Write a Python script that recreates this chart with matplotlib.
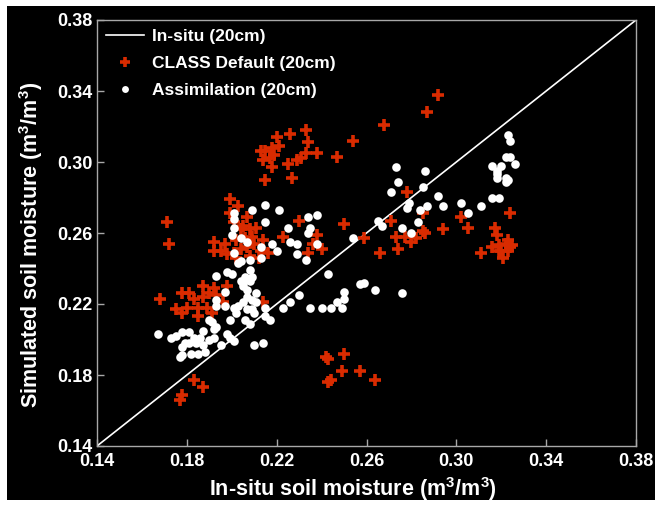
import matplotlib
matplotlib.use("Agg")
import matplotlib.pyplot as plt
from matplotlib.patches import Rectangle

plt.rcParams['font.family'] = ['Liberation Sans', 'DejaVu Sans']
plt.rcParams['font.weight'] = 'bold'
plt.rcParams['mathtext.fontset'] = 'custom'
plt.rcParams['mathtext.rm'] = 'Liberation Sans:bold'
plt.rcParams['mathtext.bf'] = 'Liberation Sans:bold'
plt.rcParams['mathtext.it'] = 'Liberation Sans:bold'

# CLASS Default (20cm): (in-situ, simulated)
class_x = [0.292, 0.287, 0.268, 0.254,
           0.220, 0.226, 0.233, 0.234, 0.221, 0.213, 0.215, 0.218, 0.219, 0.214,
           0.217, 0.218, 0.225, 0.229, 0.231, 0.233, 0.238, 0.247, 0.215, 0.227,
           0.171, 0.172, 0.168,
           0.199, 0.203, 0.207, 0.192, 0.192, 0.197, 0.201, 0.199, 0.204, 0.208,
           0.211, 0.207, 0.210, 0.213, 0.204, 0.201, 0.195, 0.214, 0.216, 0.208,
           0.198, 0.206, 0.209, 0.202, 0.212, 0.205, 0.202,
           0.223, 0.230, 0.236, 0.238, 0.240, 0.234, 0.250,
           0.187, 0.192, 0.178, 0.181, 0.183, 0.187, 0.190, 0.193, 0.198, 0.180,
           0.175, 0.178, 0.185, 0.189, 0.191, 0.185, 0.196, 0.214,
           0.183, 0.187, 0.178, 0.177, 0.243, 0.242, 0.250, 0.249, 0.257, 0.244,
           0.243, 0.264,
           0.271, 0.285, 0.302, 0.305, 0.324, 0.273, 0.277, 0.274, 0.280, 0.282,
           0.285, 0.286, 0.294, 0.317, 0.318, 0.311, 0.316, 0.319, 0.323, 0.325,
           0.321, 0.323, 0.320, 0.266, 0.259, 0.278, 0.322, 0.324, 0.319]
class_y = [0.338, 0.328, 0.321, 0.312,
           0.314, 0.316, 0.318, 0.311, 0.309, 0.306, 0.306, 0.308, 0.304, 0.301,
           0.302, 0.297, 0.299, 0.301, 0.302, 0.305, 0.305, 0.303, 0.290, 0.291,
           0.266, 0.254, 0.223,
           0.279, 0.275, 0.269, 0.255, 0.250, 0.254, 0.266, 0.271, 0.262, 0.262,
           0.263, 0.252, 0.254, 0.250, 0.251, 0.249, 0.250, 0.256, 0.249, 0.247,
           0.248, 0.257, 0.258, 0.256, 0.246, 0.264, 0.246,
           0.258, 0.267, 0.254, 0.259, 0.251, 0.249, 0.265,
           0.230, 0.229, 0.226, 0.226, 0.223, 0.224, 0.226, 0.225, 0.230, 0.218,
           0.217, 0.215, 0.218, 0.218, 0.215, 0.213, 0.221, 0.221,
           0.177, 0.173, 0.169, 0.166, 0.189, 0.190, 0.192, 0.182, 0.182, 0.177,
           0.176, 0.177,
           0.267, 0.271, 0.269, 0.263, 0.271, 0.258, 0.258, 0.251, 0.255, 0.257,
           0.261, 0.260, 0.262, 0.263, 0.259, 0.249, 0.252, 0.253, 0.256, 0.253,
           0.246, 0.250, 0.250, 0.249, 0.257, 0.283, 0.254, 0.252, 0.250]

# Assimilation (20cm)
assim_x = [0.323, 0.324, 0.322, 0.324, 0.326, 0.316, 0.320, 0.318, 0.318, 0.318,
           0.322, 0.323, 0.322, 0.273, 0.286, 0.274, 0.271, 0.285, 0.292, 0.302,
           0.294, 0.311, 0.316, 0.319, 0.305, 0.287, 0.284, 0.279, 0.278, 0.265,
           0.267, 0.276, 0.280, 0.283, 0.254, 0.257, 0.259, 0.264, 0.276,
           0.215, 0.221, 0.209, 0.201, 0.234, 0.238, 0.225, 0.235, 0.234, 0.238,
           0.229, 0.226, 0.233, 0.229, 0.215, 0.218, 0.220, 0.213, 0.213, 0.208,
           0.204, 0.201, 0.204, 0.200, 0.207, 0.201, 0.201,
           0.243, 0.250, 0.250, 0.247, 0.249, 0.244, 0.240, 0.235, 0.230, 0.226,
           0.223, 0.217, 0.215, 0.214, 0.210, 0.206, 0.209, 0.202, 0.201, 0.197,
           0.199,
           0.205, 0.206, 0.208, 0.205, 0.207, 0.211, 0.207, 0.209, 0.211, 0.205,
           0.207, 0.200, 0.198, 0.193, 0.203, 0.197, 0.193, 0.193, 0.204, 0.209,
           0.208, 0.210, 0.203, 0.215, 0.208, 0.190, 0.193, 0.187,
           0.167, 0.173, 0.175, 0.178, 0.181, 0.183, 0.191, 0.192, 0.186, 0.184,
           0.187, 0.190, 0.192, 0.195, 0.199, 0.201, 0.178, 0.178, 0.182, 0.185,
           0.188, 0.181, 0.198, 0.179, 0.177]
assim_y = [0.315, 0.312, 0.303, 0.303, 0.299, 0.298, 0.298, 0.295, 0.293, 0.291,
           0.291, 0.290, 0.289, 0.297, 0.295, 0.289, 0.283, 0.286, 0.281, 0.277,
           0.275, 0.275, 0.280, 0.280, 0.271, 0.275, 0.273, 0.277, 0.274, 0.267,
           0.264, 0.263, 0.260, 0.266, 0.257, 0.231, 0.232, 0.228, 0.226,
           0.276, 0.273, 0.273, 0.271, 0.269, 0.270, 0.263, 0.263, 0.260, 0.254,
           0.254, 0.255, 0.245, 0.248, 0.266, 0.254, 0.250, 0.252, 0.246, 0.245,
           0.244, 0.249, 0.257, 0.259, 0.255, 0.263, 0.268,
           0.237, 0.227, 0.223, 0.221, 0.218, 0.218, 0.218, 0.218, 0.225, 0.221,
           0.218, 0.211, 0.213, 0.198, 0.197, 0.211, 0.217, 0.215, 0.218, 0.219,
           0.211,
           0.232, 0.235, 0.233, 0.230, 0.228, 0.226, 0.224, 0.222, 0.221, 0.221,
           0.217, 0.237, 0.238, 0.236, 0.243, 0.227, 0.222, 0.219, 0.233, 0.235,
           0.239, 0.215, 0.219, 0.218, 0.209, 0.211, 0.207, 0.205,
           0.203, 0.201, 0.202, 0.204, 0.204, 0.201, 0.210, 0.206, 0.201, 0.198,
           0.197, 0.200, 0.201, 0.197, 0.201, 0.199, 0.196, 0.191, 0.192, 0.192,
           0.193, 0.198, 0.203, 0.198, 0.190]

ticks = [0.14, 0.18, 0.22, 0.26, 0.30, 0.34, 0.38]
tick_labels = ['0.14', '0.18', '0.22', '0.26', '0.30', '0.34', '0.38']
lims = [0.14, 0.38]

red = '#d92b00'
grey = '#a8a8a8'

fig = plt.figure(figsize=(6.55, 5.07), dpi=100, facecolor='white')
fig.patches.append(Rectangle((7/655, 1-500/507), 1-7/655, (500-6)/507,
                             transform=fig.transFigure, facecolor='black',
                             edgecolor='none', zorder=-10))
ax = fig.add_axes([97/655, 1-446/507, 539/655, 426/507])
ax.set_facecolor('black')

ax.plot(lims, lims, color='white', lw=1.2, label='In-situ (20cm)', zorder=2)
ax.plot(class_x, class_y, linestyle='none', marker='+', color=red,
        markersize=8.5, markeredgewidth=2.6, label='CLASS Default (20cm)', zorder=3)
ax.plot(assim_x, assim_y, linestyle='none', marker='o', color='white',
        markersize=6.2, markeredgewidth=0, label='Assimilation (20cm)', zorder=4)

ax.set_xlim(lims)
ax.set_ylim(lims)
ax.set_xticks(ticks)
ax.set_xticklabels(tick_labels)
ax.set_yticks(ticks)
ax.set_yticklabels(tick_labels)
for s in ax.spines.values():
    s.set_color(grey)
    s.set_linewidth(1.0)
ax.tick_params(direction='in', length=5, width=1, colors=grey,
               labelcolor='white', labelsize=13, pad=3)
ax.tick_params(axis='x', pad=5)
for lab in ax.get_xticklabels() + ax.get_yticklabels():
    lab.set_fontweight('bold')

ax.set_xlabel(r'In-situ soil moisture (m$^{3}$/m$^{3}$)', color='white',
              fontsize=15.5, fontweight='bold')
ax.set_ylabel(r'Simulated soil moisture (m$^{3}$/m$^{3}$)', color='white',
              fontsize=15.5, fontweight='bold')
ax.xaxis.set_label_coords(0.474, -0.068)
ax.yaxis.set_label_coords(-0.097, 0.472)

leg = ax.legend(loc='upper left', frameon=False, fontsize=12.5,
                handlelength=2.2, handletextpad=0.45, labelspacing=0.68,
                borderaxespad=0.2, borderpad=0.3, markerscale=0.8)
for t in leg.get_texts():
    t.set_color('white')
    t.set_fontweight('bold')

fig.savefig('out.png', dpi=100, facecolor='white')
